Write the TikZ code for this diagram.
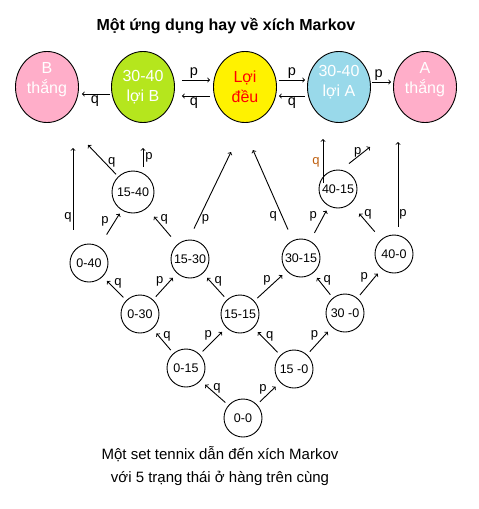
\documentclass[tikz,border=0pt]{standalone}
\usepackage{fontspec}
\setmainfont{Liberation Sans}
\usepackage{tikz}
\usetikzlibrary{arrows}
\usetikzlibrary{shapes.geometric}
\usetikzlibrary{positioning}
\definecolor{paintpink}{RGB}{255,174,201}
\definecolor{paintlime}{RGB}{181,230,29}
\definecolor{paintyellow}{RGB}{255,242,0}
\definecolor{paintblue}{RGB}{153,217,234}
\definecolor{qbrown}{RGB}{190,95,15}
\tikzset{endstate/.style = {draw, ellipse, minimum width=63pt, minimum height=71pt,
                            inner sep=0pt, align=center, font=\fontsize{16}{20}\selectfont}}
\tikzset{score/.style = {draw, circle, minimum size=38pt, inner sep=0pt,
                         font=\fontsize{12.5}{14}\selectfont}}
\tikzset{lab/.style = {inner sep=1pt, font=\fontsize{13}{15}\selectfont}}
\tikzset{toplab/.style = {inner sep=1pt, font=\fontsize{14.5}{16}\selectfont}}
\tikzset{move/.style = {->, shorten <=4pt, shorten >=6pt}}
\tikzset{qlab/.style = {lab, pos=0.7, right=3pt}}
\tikzset{plab/.style = {lab, pos=0.7, left=5pt}}

\begin{document}
\begin{tikzpicture}[x=1pt, y=-1pt, line width=0.9pt]
      \useasboundingbox (0, 0) rectangle (479, 509);
      \node [font=\bfseries\fontsize{16}{19}\selectfont] (title) at (226, 26) {Một ứng dụng hay về xích Markov};

      \node [endstate, fill=paintpink, text=white, text depth=18pt] (Bwin) at (47, 87) {B\\thắng};
      \node [endstate, fill=paintlime, text=white] (advB) at (143, 87) {30-40\\lợi B};
      \node [endstate, fill=paintyellow, text=red] (deuce) at (245, 87) {Lợi\\đều};
      \node [endstate, fill=paintblue, text=white, text depth=13pt] (advA) at (339, 87) {30-40\\lợi A};
      \node [endstate, fill=paintpink, text=white, text depth=18pt] (Awin) at (425, 87) {A\\thắng};

      \draw [->, shorten <=1pt, shorten >=3pt] ([yshift=-7pt]advB.west) -- ([yshift=-7pt]Bwin.east) node [midway, below, toplab] {q};
      \draw [->, shorten <=7pt, shorten >=3pt] ([yshift=7pt]advB.east) -- ([yshift=7pt]deuce.west) node [midway, above, toplab] {p};
      \draw [->, shorten <=3pt, shorten >=7pt] ([yshift=-9pt]deuce.west) -- ([yshift=-9pt]advB.east) node [midway, below, toplab] {q};
      \draw [->, shorten <=2pt, shorten >=2pt] ([yshift=7pt]deuce.east) -- ([yshift=7pt]advA.west) node [midway, above, toplab] {p};
      \draw [->, shorten <=2pt, shorten >=2pt] ([yshift=-9pt]advA.west) -- ([yshift=-9pt]deuce.east) node [midway, below, toplab] {q};
      \draw [->, shorten <=1pt, shorten >=2pt] ([yshift=5pt]advA.east) -- ([yshift=5pt]Awin.west) node [pos=0.35, above, toplab] {p};

      \node [score] (s00) at (243, 418) {0-0};
      \node [score] (s015) at (186, 368) {0-15};
      \node [score] (s150) at (294, 369) {15 -0};
      \node [score] (s030) at (140, 314) {0-30};
      \node [score] (s1515) at (240, 314) {15-15};
      \node [score] (s300) at (345, 313) {30 -0};
      \node [score] (s040) at (89, 263) {0-40};
      \node [score] (s1530) at (190, 259) {15-30};
      \node [score] (s3015) at (301, 258) {30-15};
      \node [score] (s400) at (394, 254) {40-0};
      \node [score, minimum size=42pt] (s1540) at (133, 192) {15-40};
      \node [score] (s4015) at (338, 189) {40-15};

      \draw [move] (s00) -- (s015) node [qlab] {q};
      \draw [move] (s00) -- (s150) node [plab] {p};
      \draw [move] (s015) -- (s030) node [qlab] {q};
      \draw [move] (s015) -- (s1515) node [plab] {p};
      \draw [move] (s150) -- (s1515) node [qlab] {q};
      \draw [move] (s150) -- (s300) node [plab] {p};
      \draw [move] (s030) -- (s040) node [qlab] {q};
      \draw [move] (s030) -- (s1530) node [plab] {p};
      \draw [move] (s1515) -- (s1530) node [qlab] {q};
      \draw [move] (s1515) -- (s3015) node [plab] {p};
      \draw [move] (s300) -- (s3015) node [qlab] {q};
      \draw [move] (s300) -- (s400) node [plab] {p};
      \draw [move, shorten <=14pt, shorten >=4pt] (s040) -- (s1540) node [plab] {p};
      \draw [move, shorten <=10pt, shorten >=11pt] (s1530) -- (s1540) node [qlab] {q};
      \draw [move, shorten <=9pt, shorten >=5pt] (s3015) -- (s4015) node [plab] {p};
      \draw [move, shorten <=10pt, shorten >=13pt] (s400) -- (s4015) node [qlab] {q};

      \coordinate (toBwin) at (73, 148);
      \coordinate (toadvB) at (88, 145);
      \coordinate (up1540) at (143, 148);
      \coordinate (deuceB) at (231, 152);
      \coordinate (deuceA) at (253, 150);
      \coordinate (toadvA) at (323, 139);
      \coordinate (up4015) at (370, 147);
      \coordinate (toAwin) at (398, 142);

      \draw [->] ([xshift=-16pt, yshift=14pt]s040.north) -- (toBwin) node [lab, pos=0.15, left=0pt] {q};
      \draw [->, shorten <=3pt] (s1540) -- (toadvB) node [lab, pos=0.45, right=2pt] {q};
      \draw [->] ([xshift=10pt, yshift=4pt]s1540.north) -- (up1540) node [lab, midway, right=1pt] {p};
      \draw [->] ([xshift=4pt, yshift=11pt]s1530.north) -- (deuceB) node [lab, pos=0.12, right=2pt] {p};
      \draw [->] ([xshift=-13pt, yshift=9pt]s3015.north) -- (deuceA) node [lab, pos=0.16, left=4pt] {q};
      \draw [->] ([xshift=-15pt, yshift=6pt]s4015.center) -- (toadvA) node [lab, pos=0.48, left=2pt, text=qbrown] {q};
      \draw [->] ([xshift=11pt, yshift=6pt]s4015.north) -- (up4015) node [lab, pos=0.7, left=1pt] {p};
      \draw [->] ([xshift=4pt, yshift=8pt]s400.north) -- (toAwin) node [lab, pos=0.14, right=0pt] {p};

      \node [font=\fontsize{15}{23}\selectfont, align=center] (caption) at (220, 466) {Một set tennix dẫn đến xích Markov\\với 5 trạng thái ở hàng trên cùng};
    \end{tikzpicture}
\end{document}
